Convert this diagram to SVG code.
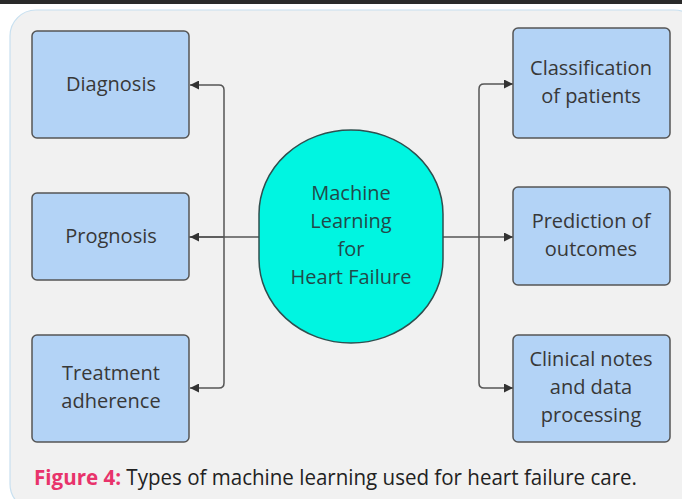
<svg xmlns="http://www.w3.org/2000/svg" width="682" height="499" viewBox="0 0 682 499">
  <defs>
    <marker id="arrow" viewBox="0 0 10 10" refX="10" refY="5" markerWidth="9" markerHeight="9" markerUnits="userSpaceOnUse" orient="auto">
      <path d="M0,0 L10,5 L0,10 z" fill="#333"/>
    </marker>
    <style>
      .box { fill: #b3d3f6; stroke: #555; stroke-width: 1.5; }
      .label { font-family: "Open Sans", "Noto Sans", sans-serif; font-size: 20px; fill: #383838; text-anchor: middle; }
      .hub { fill: #00f5e1; stroke: #2f4f4f; stroke-width: 1.5; }
      .hubtext { font-family: "Open Sans", "Noto Sans", sans-serif; font-size: 20px; fill: #214a4a; text-anchor: middle; }
      .wire { fill: none; stroke: #555; stroke-width: 1.5; }
      .cap { font-family: "Open Sans", "Noto Sans", sans-serif; font-size: 21px; fill: #222; }
    </style>
  </defs>

  <!-- page background and top rule -->
  <rect x="0" y="0" width="682" height="499" fill="#ffffff"/>
  <rect x="0" y="0" width="682" height="4" fill="#2a2a2a"/>
  <rect x="10" y="10" width="690" height="500" rx="26" ry="26" fill="#f1f1f1" stroke="#c8e0f0" stroke-width="1.2"/>

  <!-- connectors -->
  <g id="connectors">
    <path class="wire" d="M259,237 H189"/>
    <path class="wire" d="M224,237 V90 Q224,85 219,85 H190" marker-end="url(#arrow)"/>
    <path class="wire" d="M224,237 H190" marker-end="url(#arrow)"/>
    <path class="wire" d="M224,237 V383 Q224,388 219,388 H190" marker-end="url(#arrow)"/>
    <path class="wire" d="M443,237 H479"/>
    <path class="wire" d="M479,237 V89 Q479,84 484,84 H513" marker-end="url(#arrow)"/>
    <path class="wire" d="M479,237 H513" marker-end="url(#arrow)"/>
    <path class="wire" d="M479,237 V383 Q479,388 484,388 H513" marker-end="url(#arrow)"/>
  </g>

  <!-- centre node -->
  <g id="hub">
    <rect class="hub" x="259" y="130" width="184" height="213" rx="92" ry="84"/>
    <text class="hubtext" x="351" y="200">Machine</text>
    <text class="hubtext" x="351" y="228">Learning</text>
    <text class="hubtext" x="351" y="256">for</text>
    <text class="hubtext" x="351" y="284">Heart Failure</text>
  </g>

  <!-- left column -->
  <g id="diagnosis">
    <rect class="box" x="32" y="31" width="157" height="107" rx="5"/>
    <text class="label" x="111" y="91">Diagnosis</text>
  </g>
  <g id="prognosis">
    <rect class="box" x="32" y="193" width="157" height="87" rx="5"/>
    <text class="label" x="111" y="243">Prognosis</text>
  </g>
  <g id="treatment">
    <rect class="box" x="32" y="335" width="157" height="107" rx="5"/>
    <text class="label" x="111" y="380">Treatment</text>
    <text class="label" x="111" y="408">adherence</text>
  </g>

  <!-- right column -->
  <g id="classification">
    <rect class="box" x="513" y="28" width="157" height="110" rx="5"/>
    <text class="label" x="591" y="75">Classification</text>
    <text class="label" x="591" y="103">of patients</text>
  </g>
  <g id="prediction">
    <rect class="box" x="513" y="187" width="157" height="98" rx="5"/>
    <text class="label" x="591" y="228">Prediction of</text>
    <text class="label" x="591" y="256">outcomes</text>
  </g>
  <g id="clinical">
    <rect class="box" x="513" y="335" width="157" height="107" rx="5"/>
    <text class="label" x="591" y="366">Clinical notes</text>
    <text class="label" x="591" y="394">and data</text>
    <text class="label" x="591" y="422">processing</text>
  </g>

  <!-- caption -->
  <text class="cap" x="34" y="485" textLength="603" lengthAdjust="spacingAndGlyphs"><tspan fill="#e8336b" font-weight="bold">Figure 4:</tspan> Types of machine learning used for heart failure care.</text>
</svg>
